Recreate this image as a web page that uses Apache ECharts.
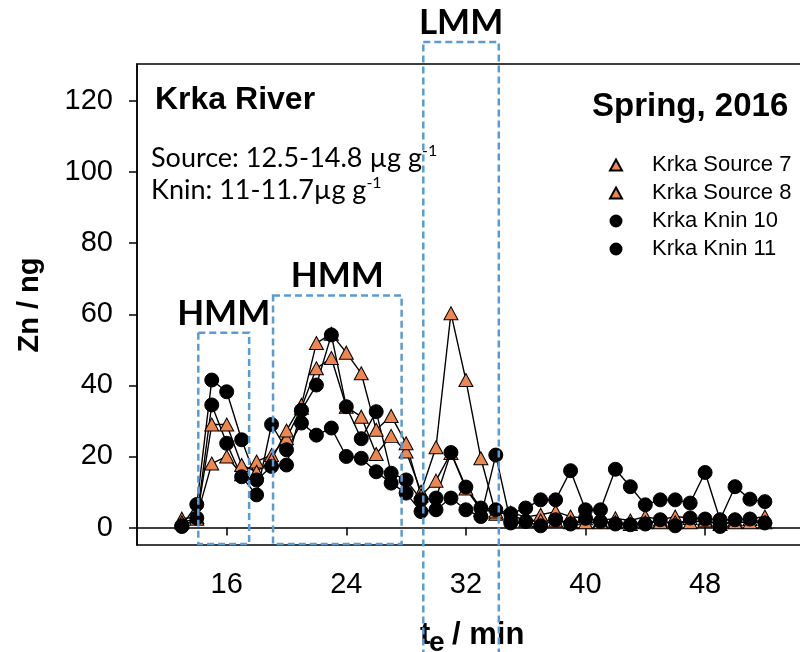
<!DOCTYPE html>
<html>
<head>
<meta charset="utf-8">
<script src="https://cdn.jsdelivr.net/npm/echarts@6/dist/echarts.min.js"></script>
<style>
  html, body { margin: 0; padding: 0; background: #fff; }
  #chart { width: 800px; height: 652px; }
</style>
</head>
<body>
<div id="chart"></div>
<script>
// Elution time of every fraction (min)
const elutionTimes = [13, 14, 15, 16, 17, 18, 19, 20, 21, 22, 23, 24, 25, 26, 27, 28, 29, 30, 31, 32,
                      33, 34, 35, 36, 37, 38, 39, 40, 41, 42, 43, 44, 45, 46, 47, 48, 49, 50, 51, 52];

// Zn (ng) per fraction
const krkaSource7 = [2.5, 3, 18, 20, 15, 18.6, 20.4, 25.1, 33.7, 44.8, 47.7, 34, 31.2, 20.7, 25.8, 21.4, 10.1, 22.6, 60.3, 41.5,
                     19.5, 3.9, 4.2, 3, 3.6, 4.5, 3.1, 2.6, 2, 2.6, 2, 3.1, 2.2, 3.1, 2.7, 2.4, 2.2, 2.2, 2.4, 3.1];
const krkaSource8 = [1.5, 2.5, 29, 29, 17.6, 15.7, 19, 27.3, 34.5, 51.9, 54.5, 49.2, 43.4, 27.5, 31.4, 23.7, 9, 13.2, 21, 11,
                     5, 4.5, 3.5, 2, 2, 2, 1.5, 1.5, 1.5, 1.5, 1, 1.5, 1.5, 1.5, 1.5, 2, 1, 1.5, 1.5, 1.5];
const krkaKnin10  = [0.5, 6.5, 41.5, 38.2, 24.7, 13.4, 17.2, 17.6, 33, 40.1, 54.2, 34, 25, 32.6, 15.3, 13.4, 7.8, 8.3, 21.1, 11.4,
                     5.5, 5, 3.9, 5.5, 7.8, 7.8, 16, 5, 5, 16.4, 11.5, 6.4, 7.8, 7.8, 6.9, 15.5, 2.2, 11.5, 8, 7.3];
const krkaKnin11  = [0.3, 2.7, 34.5, 23.7, 14.3, 9.2, 29, 21.9, 29.4, 26, 28, 20, 19.5, 15.7, 12.5, 9.7, 4.5, 5, 8.3, 5,
                     3.1, 20.4, 1.3, 1.7, 0.5, 2.2, 1, 2.6, 1.7, 1, 0.8, 1, 2.2, 0.5, 2.7, 2.4, 0.3, 2.2, 2.4, 1.3];

const xTicks = [16, 24, 32, 40, 48];
const yTicks = [0, 20, 40, 60, 80, 100, 120];

// Molecular-mass windows: [start, end] in min, upper edge in ng
const windowLabels = ['HMM', 'HMM', 'LMM'];
const windowStart  = [14.1, 19.1, 29.15];
const windowEnd    = [17.5, 27.7, 34.2];
const windowTop    = [54.8, 65.3, 136.6];
const windowBottom = [-4.6, -4.6, -40];

const ORANGE = '#EE8650';
const ARIAL = '"Liberation Sans", Arial, sans-serif';
const CALIBRI = 'Lato, "Open Sans", sans-serif';

function pairs(values) {
  return elutionTimes.map((t, i) => [t, values[i]]);
}

function makeSeries(name, values, symbol, fill, size) {
  return {
    name: name,
    type: 'line',
    data: pairs(values),
    symbol: symbol,
    symbolSize: size,
    showAllSymbol: true,
    lineStyle: { color: '#000', width: 1.4 },
    itemStyle: { color: fill, borderColor: '#000', borderWidth: 1 },
    emphasis: { disabled: true },
    silent: true
  };
}

const chart = echarts.init(document.getElementById('chart'), null, { renderer: 'canvas' });

const option = {
  animation: false,
  backgroundColor: '#fff',
  grid: {
    left: 137, top: 64, width: 672.75, height: 481,
    outerBoundsMode: 'none', containLabel: false,
    show: true, borderColor: '#000', borderWidth: 1.5, backgroundColor: 'transparent'
  },
  xAxis: {
    type: 'value', min: 10, max: 55,
    axisLine: { show: true, lineStyle: { color: '#000', width: 1.5 } },
    axisTick: { show: true, inside: false, length: 8, customValues: xTicks, lineStyle: { color: '#000', width: 1.5 } },
    axisLabel: { customValues: xTicks, margin: 25, fontSize: 29, fontFamily: ARIAL, color: '#000' },
    splitLine: { show: false }
  },
  yAxis: {
    type: 'value', min: -4.9, max: 130.4,
    axisLine: { show: true, lineStyle: { color: '#000', width: 1.5 } },
    axisTick: { show: true, inside: false, length: 8, customValues: yTicks, lineStyle: { color: '#000', width: 1.5 } },
    axisLabel: { customValues: yTicks, margin: 24, fontSize: 29, fontFamily: ARIAL, color: '#000' },
    splitLine: { show: false }
  },
  legend: {
    orient: 'vertical',
    left: 604, top: 149,
    itemWidth: 12, itemHeight: 11, itemGap: 6,
    selectedMode: false,
    textStyle: { fontSize: 22, fontFamily: ARIAL, color: '#000', lineHeight: 22, padding: [0, 0, 0, 25] },
    data: [
      { name: 'Krka Source 7', icon: 'triangle' },
      { name: 'Krka Source 8', icon: 'triangle' },
      { name: 'Krka Knin 10', icon: 'circle' },
      { name: 'Krka Knin 11', icon: 'circle' }
    ]
  },
  series: [
    makeSeries('Krka Source 7', krkaSource7, 'triangle', ORANGE, [14, 13]),
    makeSeries('Krka Source 8', krkaSource8, 'triangle', ORANGE, [14, 13]),
    makeSeries('Krka Knin 10', krkaKnin10, 'circle', '#000', 14),
    makeSeries('Krka Knin 11', krkaKnin11, 'circle', '#000', 14)
  ]
};

chart.setOption(option);

// Annotation layer: dashed fraction windows, their labels and the text blocks
const graphics = [];
windowLabels.forEach((label, i) => {
  const p0 = chart.convertToPixel({ gridIndex: 0 }, [windowStart[i], windowTop[i]]);
  const p1 = chart.convertToPixel({ gridIndex: 0 }, [windowEnd[i], windowBottom[i]]);
  graphics.push({
    type: 'rect', z: 100, silent: true,
    shape: { x: p0[0], y: p0[1], width: p1[0] - p0[0], height: p1[1] - p0[1] },
    style: { fill: 'none', stroke: '#5B9BD5', lineWidth: 2.5, lineDash: [7, 4] }
  });
  graphics.push({
    type: 'text', z: 100, silent: true,
    x: (p0[0] + p1[0]) / 2, y: p0[1] - 2,
    style: { text: label, fill: '#000', font: 'bold 35px ' + CALIBRI, align: 'center', verticalAlign: 'bottom' }
  });
});

graphics.push(
  { type: 'text', silent: true, x: 155, y: 100,
    style: { text: 'Krka River', fill: '#000', font: 'bold 32px ' + ARIAL, align: 'left', verticalAlign: 'middle' } },
  { type: 'text', silent: true, x: 592, y: 107,
    style: { text: 'Spring, 2016', fill: '#000', font: 'bold 33px ' + ARIAL, align: 'left', verticalAlign: 'middle' } },
  { type: 'text', silent: true, x: 151, y: 158,
    style: { text: 'Source: 12.5-14.8 µg g{sup|-1}', fill: '#000', font: '27px ' + CALIBRI,
             align: 'left', verticalAlign: 'middle', lineHeight: 30,
             rich: { sup: { fontSize: 16, fontFamily: CALIBRI, verticalAlign: 'top', lineHeight: 16 } } } },
  { type: 'text', silent: true, x: 151, y: 190,
    style: { text: 'Knin: 11-11.7µg g{sup|-1}', fill: '#000', font: '27px ' + CALIBRI,
             align: 'left', verticalAlign: 'middle', lineHeight: 30,
             rich: { sup: { fontSize: 16, fontFamily: CALIBRI, verticalAlign: 'top', lineHeight: 16 } } } },
  // axis titles
  { type: 'text', silent: true, x: 30, y: 305, rotation: Math.PI / 2,
    style: { text: 'Zn / ng', fill: '#000', font: 'bold 29px ' + ARIAL, align: 'center', verticalAlign: 'middle' } },
  { type: 'text', silent: true, x: 420, y: 635,
    style: { text: 't', fill: '#000', font: 'bold 31px ' + ARIAL, align: 'left', verticalAlign: 'middle' } },
  { type: 'text', silent: true, x: 429, y: 643,
    style: { text: 'e', fill: '#000', font: 'bold 28px ' + ARIAL, align: 'left', verticalAlign: 'middle' } },
  { type: 'text', silent: true, x: 452, y: 635,
    style: { text: '/ min', fill: '#000', font: 'bold 31px ' + ARIAL, align: 'left', verticalAlign: 'middle' } }
);

chart.setOption({ graphic: graphics });
</script>
</body>
</html>
